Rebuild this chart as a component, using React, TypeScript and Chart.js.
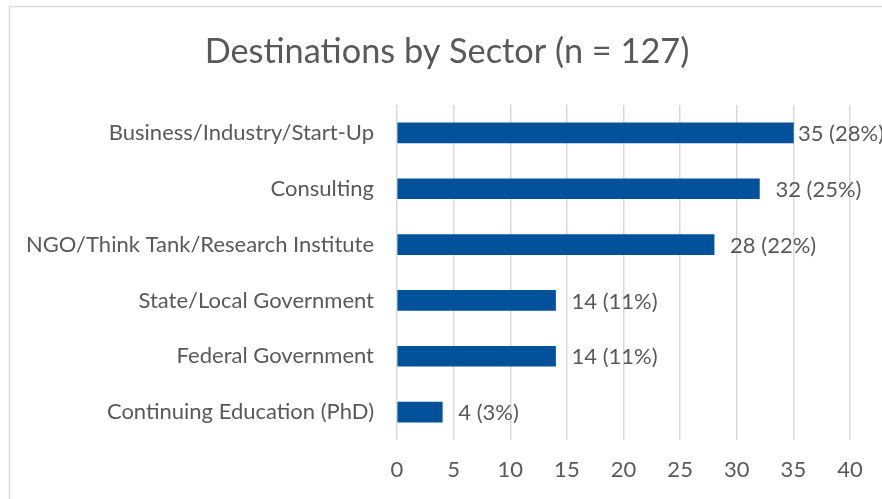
import React, { useEffect, useRef } from "react";
import { Chart, registerables } from "chart.js";

Chart.register(...registerables);

const categories = [
  "Business/Industry/Start-Up",
  "Consulting",
  "NGO/Think Tank/Research Institute",
  "State/Local Government",
  "Federal Government",
  "Continuing Education (PhD)",
];
const counts = [35, 32, 28, 14, 14, 4];
const percents = [28, 25, 22, 11, 11, 3];
const titleText = "Destinations by Sector (n = 127)";

const FONT = "Lato, 'Open Sans', sans-serif";
const GREY = "#595959";

export default function App() {
  const ref = useRef<HTMLCanvasElement>(null);
  useEffect(() => {
    if (!ref.current) return;
    const framePlugin = {
      id: "frame",
      beforeDraw(chart: any) {
        const ctx = chart.ctx;
        ctx.save();
        ctx.fillStyle = "#ffffff";
        ctx.fillRect(0, 0, chart.width, chart.height);
        ctx.strokeStyle = "#d9d9d9";
        ctx.lineWidth = 1.5;
        ctx.strokeRect(9.5, 6.5, chart.width + 50, chart.height + 50);
        ctx.font = `34.3px ${FONT}`;
        ctx.fillStyle = GREY;
        ctx.textAlign = "center";
        ctx.textBaseline = "middle";
        ctx.fillText(titleText, 447, 52);
        ctx.restore();
      },
    };
    const labelPlugin = {
      id: "barLabels",
      afterDatasetsDraw(chart: any) {
        const ctx = chart.ctx;
        const meta = chart.getDatasetMeta(0);
        ctx.save();
        ctx.font = `22px ${FONT}`;
        ctx.fillStyle = GREY;
        ctx.textBaseline = "middle";
        ctx.textAlign = "left";
        meta.data.forEach((bar: any, i: number) => {
          const text = `${counts[i]} (${percents[i]}%)`;
          const w = ctx.measureText(text).width;
          const x = Math.min(bar.x + 16, chart.width - w + 2);
          ctx.fillText(text, x, bar.y + 1);
        });
        ctx.restore();
      },
    };
    const chart = new Chart(ref.current, {
      type: "bar",
      data: {
        labels: categories,
        datasets: [
          {
            data: counts,
            backgroundColor: "#01529B",
            barThickness: 20,
          },
        ],
      },
      options: {
        indexAxis: "y",
        responsive: false,
        animation: false,
        layout: { padding: { left: 0, right: 32, top: 105, bottom: 0 } },
        plugins: {
          legend: { display: false },
          tooltip: { enabled: false },
          title: { display: false },
        },
        scales: {
          x: {
            min: 0,
            max: 40,
            ticks: {
              stepSize: 5,
              color: GREY,
              font: { family: FONT, size: 22 },
              padding: 17,
            },
            grid: { color: "#d9d9d9", lineWidth: 1.5, drawTicks: false },
            border: { display: false },
            afterFit: (s: any) => {
              s.height = 59;
            },
          },
          y: {
            ticks: {
              color: GREY,
              font: { family: FONT, size: 22 },
              padding: 23,
            },
            grid: { display: false, drawTicks: false },
            border: { display: false },
            afterFit: (s: any) => {
              s.width = 397;
            },
          },
        },
      },
      plugins: [framePlugin, labelPlugin],
    } as any);
    return () => chart.destroy();
  }, []);
  return (
    <div style={{ position: "fixed", left: 0, top: 0, width: 882, height: 499 }}>
      <canvas ref={ref} width={882} height={499} />
    </div>
  );
}
